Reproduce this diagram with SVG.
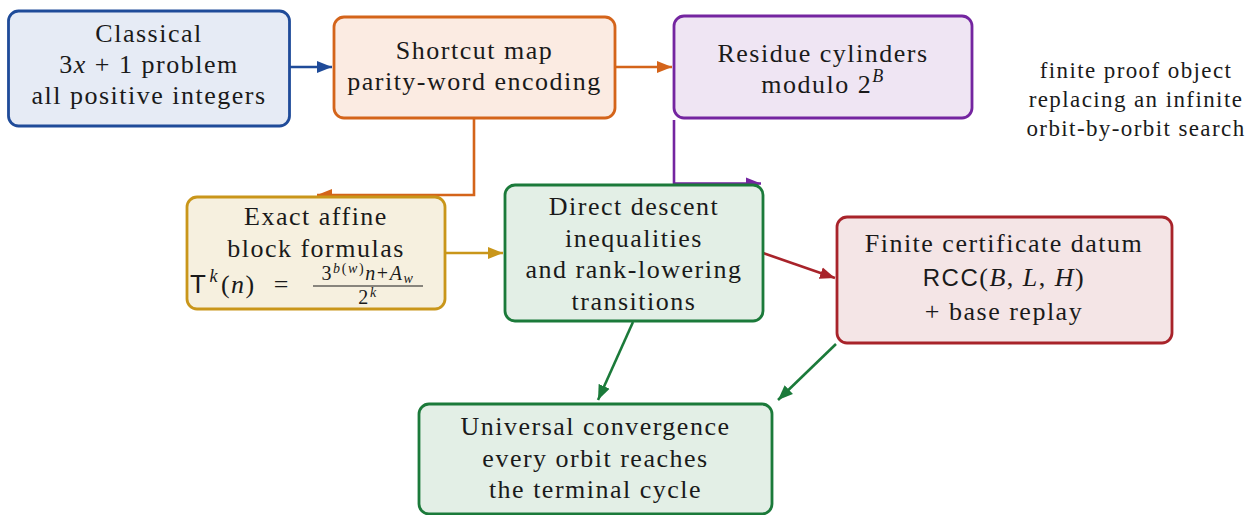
<svg xmlns="http://www.w3.org/2000/svg" width="1248" height="515" viewBox="0 0 1248 515">
<style>
text{font-family:"Liberation Serif","DejaVu Serif",serif;font-size:26px;letter-spacing:1.5px;fill:#1a1a1a;text-anchor:middle}
.l{text-anchor:start}
.it{font-style:italic}
.sf{font-family:"Liberation Sans","DejaVu Sans",sans-serif}
.side{font-size:23px;letter-spacing:1.4px}
.m{font-size:20px;letter-spacing:1.6px}
.box{stroke-width:2.8}
.c{fill:none;stroke-width:2.6}
</style>
<defs>
<marker id="mb" markerUnits="userSpaceOnUse" markerWidth="17" markerHeight="13" refX="15" refY="6.5" orient="auto"><path d="M0,0.5 L15,6.5 L0,12.5 z" fill="#1f4b99"/></marker>
<marker id="mo" markerUnits="userSpaceOnUse" markerWidth="17" markerHeight="13" refX="15" refY="6.5" orient="auto"><path d="M0,0.5 L15,6.5 L0,12.5 z" fill="#d4641a"/></marker>
<marker id="mp" markerUnits="userSpaceOnUse" markerWidth="17" markerHeight="13" refX="15" refY="6.5" orient="auto"><path d="M0,0.5 L15,6.5 L0,12.5 z" fill="#7425a0"/></marker>
<marker id="mg" markerUnits="userSpaceOnUse" markerWidth="17" markerHeight="13" refX="15" refY="6.5" orient="auto"><path d="M0,0.5 L15,6.5 L0,12.5 z" fill="#c9961a"/></marker>
<marker id="mr" markerUnits="userSpaceOnUse" markerWidth="17" markerHeight="13" refX="15" refY="6.5" orient="auto"><path d="M0,0.5 L15,6.5 L0,12.5 z" fill="#a8232a"/></marker>
<marker id="mn" markerUnits="userSpaceOnUse" markerWidth="17" markerHeight="13" refX="15" refY="6.5" orient="auto"><path d="M0,0.5 L15,6.5 L0,12.5 z" fill="#1b7a3a"/></marker>
</defs>

<g id="connectors">
<path class="c" d="M290,67 H332" stroke="#1f4b99" marker-end="url(#mb)"/>
<path class="c" d="M615,67 H672" stroke="#d4641a" marker-end="url(#mo)"/>
<path class="c" d="M474,119 V195 H317" stroke="#d4641a" marker-end="url(#mo)"/>
<path class="c" d="M674,120 V183.5 H761" stroke="#7425a0" marker-end="url(#mp)"/>
<path class="c" d="M445,253 H503" stroke="#c9961a" marker-end="url(#mg)"/>
<path class="c" d="M763,253 L835,278" stroke="#a8232a" marker-end="url(#mr)"/>
<path class="c" d="M633,322 L598,400" stroke="#1b7a3a" marker-end="url(#mn)"/>
<path class="c" d="M836,344 L778,400" stroke="#1b7a3a" marker-end="url(#mn)"/>
</g>

<g id="classical">
<rect class="box" x="8.5" y="11" width="281" height="115" rx="10" fill="#e6ebf5" stroke="#1f4b99"/>
<text x="149" y="42">Classical</text>
<text x="149" y="73">3<tspan class="it">x</tspan> + 1 problem</text>
<text x="149" y="104">all positive integers</text>
</g>

<g id="shortcut">
<rect class="box" x="334" y="17" width="281" height="101" rx="10" fill="#fbebe2" stroke="#d4641a"/>
<text x="474.5" y="59">Shortcut map</text>
<text x="474.5" y="90">parity-word encoding</text>
</g>

<g id="residue">
<rect class="box" x="674" y="16" width="298" height="102" rx="10" fill="#efe5f3" stroke="#7425a0"/>
<text x="823" y="62">Residue cylinders</text>
<text x="823" y="93">modulo 2<tspan class="it" font-size="18" dy="-11">B</tspan></text>
</g>

<g id="affine">
<rect class="box" x="187" y="197" width="258" height="112" rx="10" fill="#f6f0df" stroke="#c9961a"/>
<text x="316" y="225">Exact affine</text>
<text x="316" y="257">block formulas</text>
<text x="190" y="293" class="l" letter-spacing="1.5"><tspan font-family="Liberation Sans" font-size="26">T</tspan><tspan font-style="italic" font-size="18" dy="-11" dx="2">k</tspan><tspan dy="11" dx="2">(<tspan font-style="italic">n</tspan>)</tspan><tspan dx="18">=</tspan></text>
<text x="368" y="280" class="m">3<tspan font-size="14" dy="-7" font-style="italic">b</tspan><tspan font-size="14">(<tspan font-style="italic">w</tspan>)</tspan><tspan dy="7" font-style="italic">n</tspan>+<tspan font-style="italic">A</tspan><tspan font-size="14" dy="3" font-style="italic">w</tspan></text>
<line x1="313" y1="286" x2="423" y2="286" stroke="#1a1a1a" stroke-width="1"/>
<text x="368" y="304" class="m">2<tspan font-size="14" dy="-7" font-style="italic">k</tspan></text>
</g>

<g id="descent">
<rect class="box" x="505" y="185" width="258" height="136" rx="10" fill="#e3efe6" stroke="#1b7a3a"/>
<text x="634" y="215">Direct descent</text>
<text x="634" y="247">inequalities</text>
<text x="634" y="278">and rank-lowering</text>
<text x="634" y="310">transitions</text>
</g>

<g id="certificate">
<rect class="box" x="837" y="217" width="335" height="126" rx="10" fill="#f4e5e6" stroke="#a8232a"/>
<text x="1004" y="252">Finite certificate datum</text>
<text x="1004" y="286"><tspan class="sf" font-size="24">RCC</tspan>(<tspan class="it">B</tspan>, <tspan class="it">L</tspan>, <tspan class="it">H</tspan>)</text>
<text x="1004" y="320">+ base replay</text>
</g>

<g id="universal">
<rect class="box" x="419" y="404" width="353" height="110" rx="10" fill="#e3efe6" stroke="#1b7a3a"/>
<text x="595.5" y="435">Universal convergence</text>
<text x="595.5" y="467">every orbit reaches</text>
<text x="595.5" y="498">the terminal cycle</text>
</g>

<g id="note">
<text class="side" x="1136" y="78">finite proof object</text>
<text class="side" x="1136" y="107">replacing an infinite</text>
<text class="side" x="1136" y="136">orbit-by-orbit search</text>
</g>
</svg>
